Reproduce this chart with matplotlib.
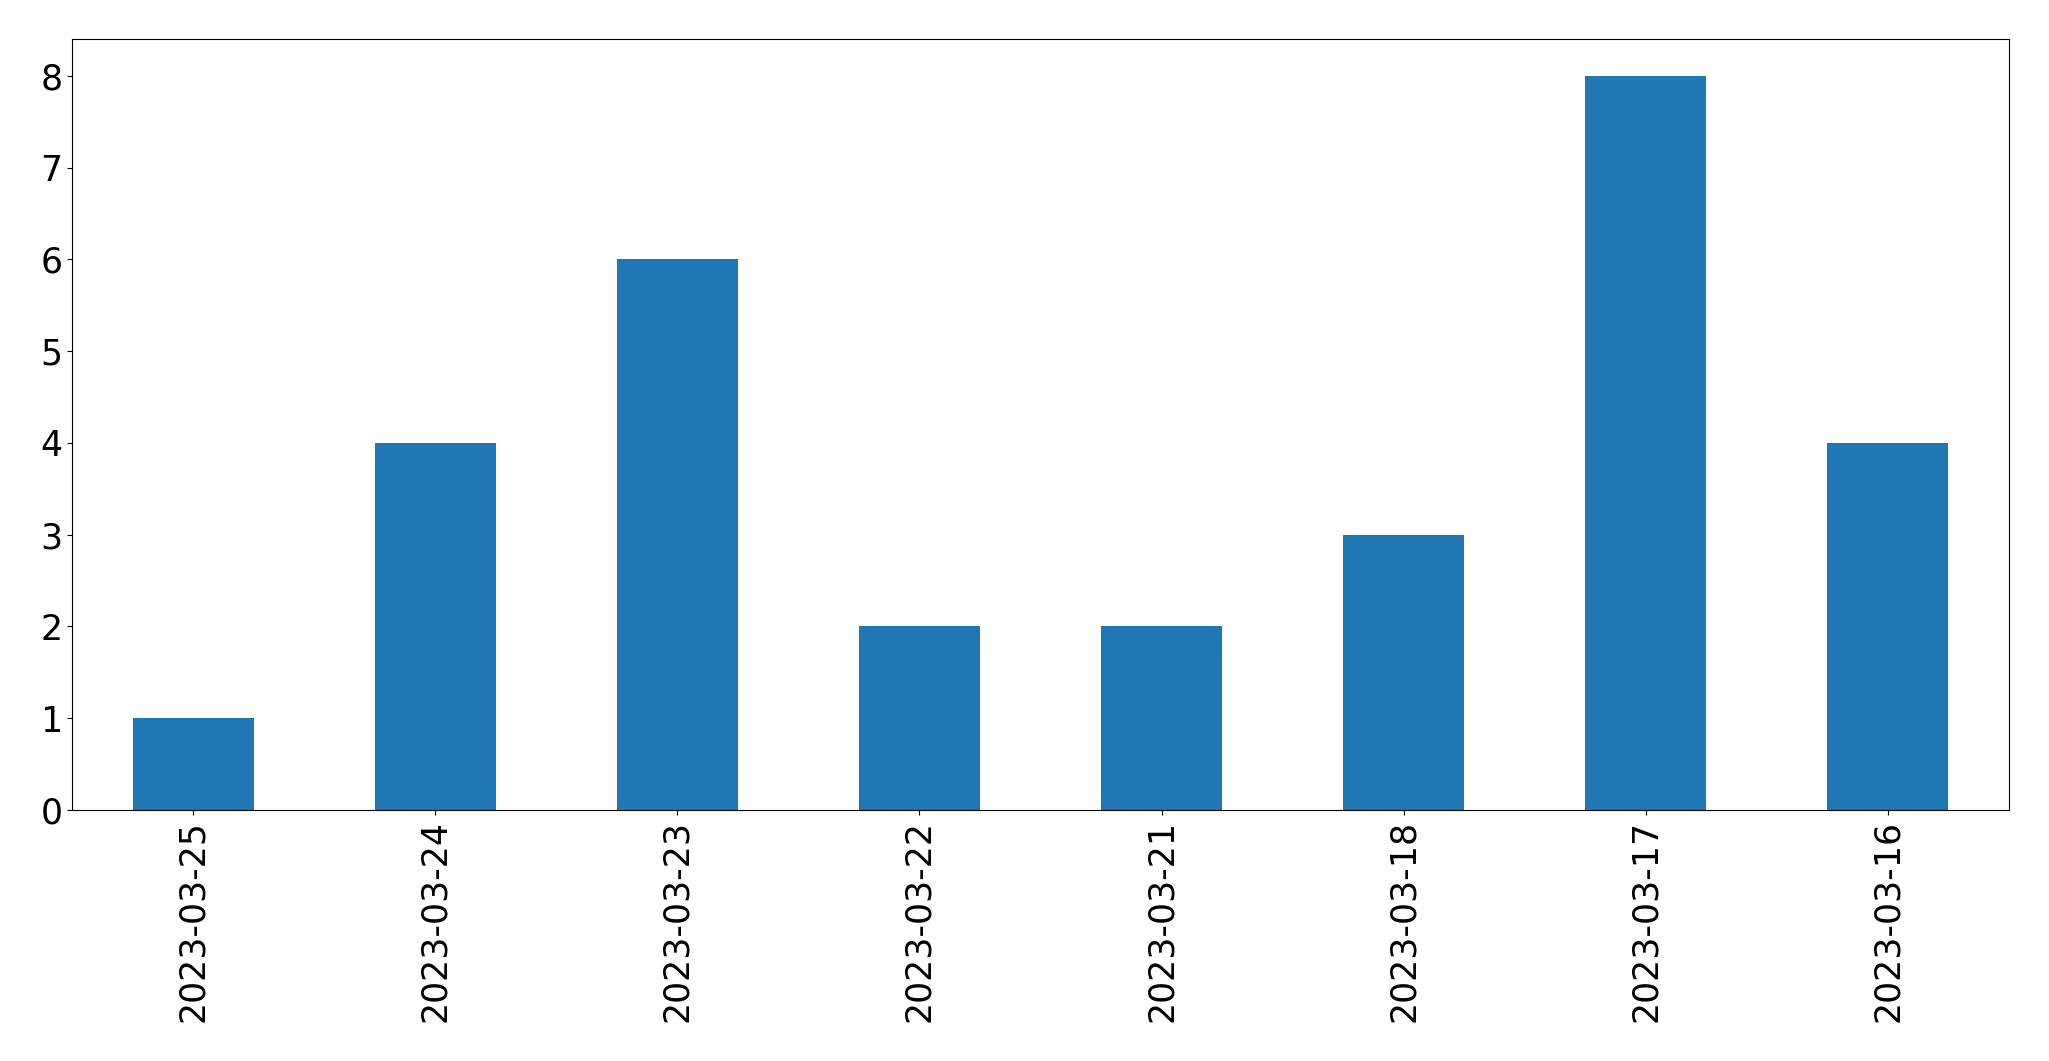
import matplotlib
matplotlib.use("Agg")
import matplotlib.pyplot as plt
import numpy as np

dates = ["2023-03-25", "2023-03-24", "2023-03-23", "2023-03-22",
         "2023-03-21", "2023-03-18", "2023-03-17", "2023-03-16"]
counts = [1, 4, 6, 2, 2, 3, 8, 4]

fig, ax = plt.subplots(figsize=(20.49, 10.61), dpi=100)
fig.subplots_adjust(left=72 / 2049, right=2009 / 2049, top=1 - 39 / 1061, bottom=1 - 810 / 1061)

x = np.arange(len(dates))
ax.bar(x, counts, width=0.5, color="#1f77b4")
ax.set_xlim(-0.5, len(dates) - 0.5)
ax.set_xticks(x)
ax.set_xticklabels(dates, rotation=90)
ax.tick_params(labelsize=25)

fig.savefig("out.png", dpi=100)
